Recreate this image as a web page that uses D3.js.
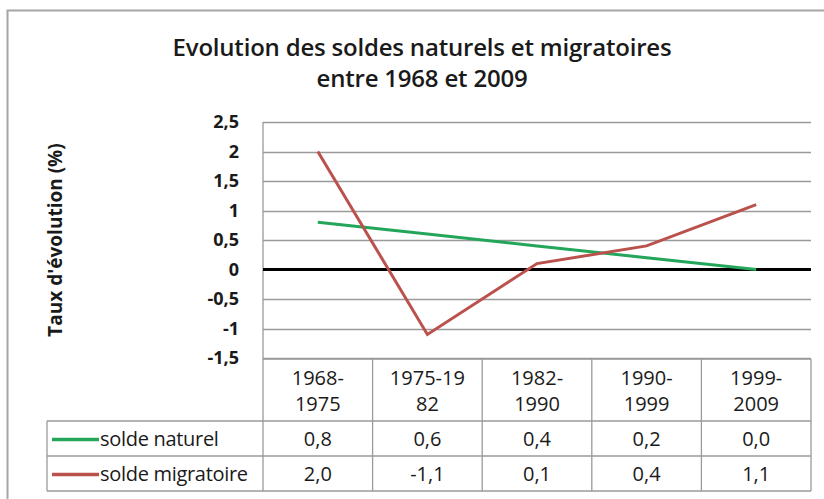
<!DOCTYPE html>
<html>
<head>
<meta charset="utf-8">
<script src="https://cdn.jsdelivr.net/npm/d3@7"></script>
<style>
  body { margin: 0; background: #fff; }
  svg { display: block; font-family: "Open Sans", "Liberation Sans", sans-serif; }
</style>
</head>
<body>
<svg width="824" height="499"></svg>
<script>
var periods = ["1968-1975", "1975-1982", "1982-1990", "1990-1999", "1999-2009"];
var periodLines = [["1968-", "1975"], ["1975-19", "82"], ["1982-", "1990"], ["1990-", "1999"], ["1999-", "2009"]];
var soldeNaturel = [0.8, 0.6, 0.4, 0.2, 0.0];
var soldeMigratoire = [2.0, -1.1, 0.1, 0.4, 1.1];
var yTicks = [-1.5, -1, -0.5, 0, 0.5, 1, 1.5, 2, 2.5];

var series = [
  { name: "solde naturel", values: soldeNaturel, color: "#23a65a" },
  { name: "solde migratoire", values: soldeMigratoire, color: "#bb514c" }
];

var svg = d3.select("svg");
var plotLeft = 263, plotRight = 811, plotTop = 122, plotBottom = 358;
var headerBottom = 421, row1Bottom = 456, tableBottom = 491, legendLeft = 47;

var x = d3.scaleBand().domain(periods).range([plotLeft, plotRight]);
var y = d3.scaleLinear().domain([-1.5, 2.5]).range([plotBottom, plotTop]);
var fmt = function(v) { return v.toFixed(1).replace(".", ","); };
var tickFmt = function(v) { return String(v).replace(".", ","); };

// chart border
svg.append("rect")
    .attr("x", 7.5).attr("y", 10.5).attr("width", 830).attr("height", 500)
    .attr("fill", "none").attr("stroke", "#a6a6a6").attr("stroke-width", 2);

// title
var title = svg.append("text")
    .attr("text-anchor", "middle")
    .attr("font-size", 24).attr("font-weight", 600).attr("letter-spacing", -0.2)
    .attr("fill", "#1a1a1a");
title.append("tspan").attr("x", 422).attr("y", 56).text("Evolution des soldes naturels et migratoires");
title.append("tspan").attr("x", 422).attr("y", 87).text("entre 1968 et 2009");

// gridlines
svg.append("g").selectAll("line")
  .data(yTicks.filter(function(d) { return d !== 0; }))
  .enter().append("line")
    .attr("x1", plotLeft).attr("x2", plotRight)
    .attr("y1", function(d) { return Math.round(y(d)) + 0.5; })
    .attr("y2", function(d) { return Math.round(y(d)) + 0.5; })
    .attr("stroke", "#9a9a9a").attr("stroke-width", 1.3);

// y axis
var yAxis = svg.append("g")
    .attr("transform", "translate(" + plotLeft + ",0)")
    .call(d3.axisLeft(y).tickValues(yTicks).tickFormat(tickFmt).tickSize(0).tickPadding(24));
yAxis.select(".domain").remove();
yAxis.selectAll("text")
    .attr("font-size", 18).attr("font-weight", "bold").attr("fill", "#1a1a1a")
    .attr("font-family", "Open Sans, sans-serif");

svg.append("text")
    .attr("transform", "translate(62," + ((plotTop + plotBottom) / 2) + ") rotate(-90)")
    .attr("text-anchor", "middle")
    .attr("font-size", 19).attr("font-weight", "bold").attr("fill", "#1a1a1a")
    .text("Taux d'évolution (%)");

// table grid
var grid = svg.append("g").attr("stroke", "#9a9a9a").attr("stroke-width", 1.3).attr("fill", "none");
grid.append("line").attr("x1", plotLeft).attr("x2", plotLeft).attr("y1", plotTop).attr("y2", tableBottom);
grid.append("line").attr("x1", plotLeft).attr("x2", plotRight).attr("y1", plotBottom + 1).attr("y2", plotBottom + 1);
grid.selectAll(".v").data(periods).enter().append("line")
    .attr("x1", function(d) { return x(d) + x.bandwidth(); })
    .attr("x2", function(d) { return x(d) + x.bandwidth(); })
    .attr("y1", plotBottom + 1).attr("y2", tableBottom);
[headerBottom, row1Bottom, tableBottom].forEach(function(yy) {
  grid.append("line").attr("x1", legendLeft).attr("x2", plotRight).attr("y1", yy).attr("y2", yy);
});
grid.append("line").attr("x1", legendLeft).attr("x2", legendLeft).attr("y1", headerBottom).attr("y2", tableBottom);

// header labels
svg.append("g").selectAll("text")
  .data(periods).enter().append("text")
    .attr("text-anchor", "middle")
    .attr("font-size", 20).attr("fill", "#1a1a1a")
    .each(function(d, i) {
      var t = d3.select(this);
      periodLines[i].forEach(function(s, k) {
        t.append("tspan").attr("x", x(d) + x.bandwidth() / 2).attr("y", 385 + k * 26).text(s);
      });
    });

// zero line
svg.append("line")
    .attr("x1", plotLeft).attr("x2", plotRight)
    .attr("y1", y(0)).attr("y2", y(0))
    .attr("stroke", "#000").attr("stroke-width", 3);

// series lines
var line = d3.line()
    .x(function(d, i) { return x(periods[i]) + x.bandwidth() / 2; })
    .y(function(d) { return y(d); });

svg.append("g").selectAll("path")
  .data(series).enter().append("path")
    .attr("d", function(s) { return line(s.values); })
    .attr("fill", "none")
    .attr("stroke", function(s) { return s.color; })
    .attr("stroke-width", 3);

// table rows
var rowCenters = [(headerBottom + row1Bottom) / 2, (row1Bottom + tableBottom) / 2];
series.forEach(function(s, r) {
  var cy = rowCenters[r];
  svg.append("line")
      .attr("x1", 52).attr("x2", 99).attr("y1", cy + 1).attr("y2", cy + 1)
      .attr("stroke", s.color).attr("stroke-width", 3.5);
  svg.append("text")
      .attr("x", 100).attr("y", cy + 7)
      .attr("font-size", 20).attr("letter-spacing", -0.3).attr("fill", "#1a1a1a")
      .text(s.name);
  svg.append("g").selectAll("text")
    .data(s.values).enter().append("text")
      .attr("x", function(d, i) { return x(periods[i]) + x.bandwidth() / 2; })
      .attr("y", cy + 7)
      .attr("text-anchor", "middle")
      .attr("font-size", 20).attr("fill", "#1a1a1a")
      .text(fmt);
});
</script>
</body>
</html>
